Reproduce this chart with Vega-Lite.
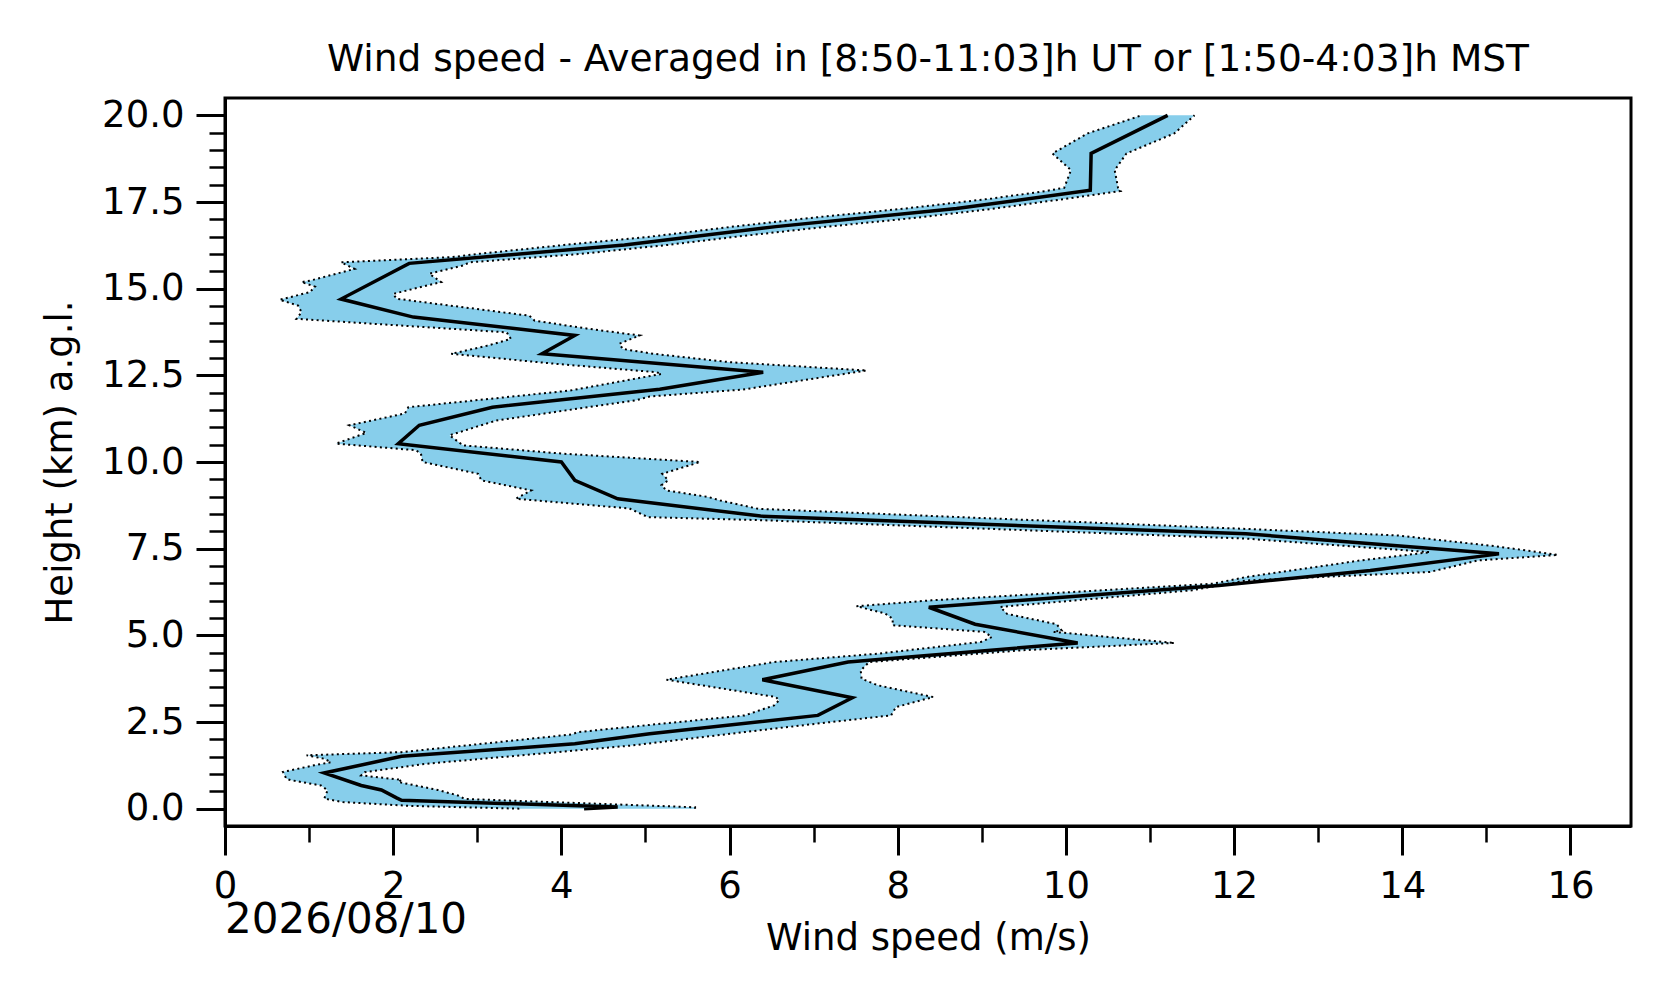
{
  "$schema": "https://vega.github.io/schema/vega-lite/v6.json",
  "width": 1406,
  "height": 728,
  "autosize": {"type": "none"},
  "padding": {"left": 225, "top": 98, "right": 45, "bottom": 177},
  "background": "white",
  "title": {
    "text": "Wind speed - Averaged in [8:50-11:03]h UT or [1:50-4:03]h MST",
    "font": "DejaVu Sans",
    "fontSize": 37.5,
    "fontWeight": "normal",
    "color": "black",
    "anchor": "middle",
    "baseline": "alphabetic",
    "offset": -12
  },
  "config": {
    "view": {"stroke": "black", "strokeWidth": 3},
    "axis": {
      "grid": false,
      "domainColor": "black",
      "domainWidth": 3,
      "tickColor": "black",
      "labelFont": "DejaVu Sans",
      "labelFontSize": 37,
      "labelColor": "black",
      "titleFont": "DejaVu Sans",
      "titleFontSize": 37,
      "titleFontWeight": "normal",
      "titleColor": "black",
      "labelOverlap": false,
      "labelFlush": false,
      "labelBound": false
    }
  },
  "datasets": {
    "band": [
      {"side": "lo", "h": 0.00, "v": 3.50},
      {"side": "lo", "h": 0.08, "v": 2.20},
      {"side": "lo", "h": 0.19, "v": 1.40},
      {"side": "lo", "h": 0.29, "v": 1.18},
      {"side": "lo", "h": 0.53, "v": 1.22},
      {"side": "lo", "h": 0.67, "v": 1.14},
      {"side": "lo", "h": 0.82, "v": 0.79},
      {"side": "lo", "h": 0.86, "v": 0.73},
      {"side": "lo", "h": 1.06, "v": 0.69},
      {"side": "lo", "h": 1.25, "v": 1.06},
      {"side": "lo", "h": 1.34, "v": 1.26},
      {"side": "lo", "h": 1.44, "v": 1.18},
      {"side": "lo", "h": 1.54, "v": 0.97},
      {"side": "lo", "h": 1.63, "v": 2.10},
      {"side": "lo", "h": 2.14, "v": 4.12},
      {"side": "lo", "h": 2.21, "v": 4.20},
      {"side": "lo", "h": 2.69, "v": 6.18},
      {"side": "lo", "h": 2.98, "v": 6.53},
      {"side": "lo", "h": 3.13, "v": 6.59},
      {"side": "lo", "h": 3.22, "v": 6.55},
      {"side": "lo", "h": 3.72, "v": 5.25},
      {"side": "lo", "h": 4.23, "v": 6.53},
      {"side": "lo", "h": 4.47, "v": 7.76},
      {"side": "lo", "h": 4.81, "v": 8.99},
      {"side": "lo", "h": 4.95, "v": 9.12},
      {"side": "lo", "h": 5.10, "v": 9.03},
      {"side": "lo", "h": 5.29, "v": 7.94},
      {"side": "lo", "h": 5.48, "v": 7.94},
      {"side": "lo", "h": 5.63, "v": 7.85},
      {"side": "lo", "h": 5.84, "v": 7.51},
      {"side": "lo", "h": 6.01, "v": 8.40},
      {"side": "lo", "h": 6.49, "v": 11.75},
      {"side": "lo", "h": 6.68, "v": 12.14},
      {"side": "lo", "h": 7.16, "v": 13.50},
      {"side": "lo", "h": 7.40, "v": 14.33},
      {"side": "lo", "h": 7.79, "v": 12.14},
      {"side": "lo", "h": 8.32, "v": 6.40},
      {"side": "lo", "h": 8.41, "v": 5.03},
      {"side": "lo", "h": 8.66, "v": 4.81},
      {"side": "lo", "h": 8.94, "v": 3.46},
      {"side": "lo", "h": 9.18, "v": 3.64},
      {"side": "lo", "h": 9.47, "v": 3.05},
      {"side": "lo", "h": 9.66, "v": 3.01},
      {"side": "lo", "h": 10.00, "v": 2.35},
      {"side": "lo", "h": 10.24, "v": 2.33},
      {"side": "lo", "h": 10.34, "v": 2.27},
      {"side": "lo", "h": 10.53, "v": 1.32},
      {"side": "lo", "h": 10.84, "v": 1.68},
      {"side": "lo", "h": 11.06, "v": 1.48},
      {"side": "lo", "h": 11.40, "v": 2.14},
      {"side": "lo", "h": 11.58, "v": 2.18},
      {"side": "lo", "h": 12.06, "v": 4.10},
      {"side": "lo", "h": 12.54, "v": 5.19},
      {"side": "lo", "h": 12.59, "v": 5.13},
      {"side": "lo", "h": 12.83, "v": 3.94},
      {"side": "lo", "h": 13.12, "v": 2.69},
      {"side": "lo", "h": 13.35, "v": 3.11},
      {"side": "lo", "h": 13.55, "v": 3.40},
      {"side": "lo", "h": 13.74, "v": 3.35},
      {"side": "lo", "h": 14.00, "v": 1.68},
      {"side": "lo", "h": 14.13, "v": 0.85},
      {"side": "lo", "h": 14.32, "v": 0.91},
      {"side": "lo", "h": 14.51, "v": 0.87},
      {"side": "lo", "h": 14.68, "v": 0.65},
      {"side": "lo", "h": 14.90, "v": 1.01},
      {"side": "lo", "h": 15.06, "v": 1.07},
      {"side": "lo", "h": 15.19, "v": 0.91},
      {"side": "lo", "h": 15.23, "v": 1.01},
      {"side": "lo", "h": 15.48, "v": 1.40},
      {"side": "lo", "h": 15.57, "v": 1.54},
      {"side": "lo", "h": 15.76, "v": 1.38},
      {"side": "lo", "h": 15.91, "v": 2.70},
      {"side": "lo", "h": 16.00, "v": 3.00},
      {"side": "lo", "h": 16.26, "v": 4.03},
      {"side": "lo", "h": 16.50, "v": 5.06},
      {"side": "lo", "h": 16.79, "v": 6.04},
      {"side": "lo", "h": 17.05, "v": 7.00},
      {"side": "lo", "h": 17.31, "v": 8.08},
      {"side": "lo", "h": 17.60, "v": 9.12},
      {"side": "lo", "h": 17.82, "v": 9.77},
      {"side": "lo", "h": 17.91, "v": 9.98},
      {"side": "lo", "h": 18.42, "v": 10.06},
      {"side": "lo", "h": 18.90, "v": 9.84},
      {"side": "lo", "h": 19.48, "v": 10.26},
      {"side": "lo", "h": 20.00, "v": 10.90},
      {"side": "hi", "h": 20.00, "v": 11.53},
      {"side": "hi", "h": 19.48, "v": 11.29},
      {"side": "hi", "h": 18.90, "v": 10.72},
      {"side": "hi", "h": 18.42, "v": 10.58},
      {"side": "hi", "h": 17.91, "v": 10.62},
      {"side": "hi", "h": 17.82, "v": 10.65},
      {"side": "hi", "h": 17.60, "v": 10.02},
      {"side": "hi", "h": 17.31, "v": 9.15},
      {"side": "hi", "h": 17.05, "v": 8.24},
      {"side": "hi", "h": 16.79, "v": 7.17},
      {"side": "hi", "h": 16.50, "v": 6.08},
      {"side": "hi", "h": 16.26, "v": 5.26},
      {"side": "hi", "h": 16.00, "v": 4.22},
      {"side": "hi", "h": 15.76, "v": 2.91},
      {"side": "hi", "h": 15.67, "v": 2.83},
      {"side": "hi", "h": 15.43, "v": 2.43},
      {"side": "hi", "h": 15.19, "v": 2.57},
      {"side": "hi", "h": 14.85, "v": 2.00},
      {"side": "hi", "h": 14.71, "v": 2.04},
      {"side": "hi", "h": 14.22, "v": 3.62},
      {"side": "hi", "h": 14.08, "v": 3.68},
      {"side": "hi", "h": 13.85, "v": 4.30},
      {"side": "hi", "h": 13.65, "v": 4.93},
      {"side": "hi", "h": 13.41, "v": 4.69},
      {"side": "hi", "h": 13.26, "v": 4.73},
      {"side": "hi", "h": 13.12, "v": 5.10},
      {"side": "hi", "h": 12.88, "v": 6.00},
      {"side": "hi", "h": 12.64, "v": 7.63},
      {"side": "hi", "h": 12.54, "v": 7.36},
      {"side": "hi", "h": 12.09, "v": 6.16},
      {"side": "hi", "h": 11.89, "v": 5.05},
      {"side": "hi", "h": 11.78, "v": 4.89},
      {"side": "hi", "h": 11.20, "v": 3.23},
      {"side": "hi", "h": 10.77, "v": 2.67},
      {"side": "hi", "h": 10.48, "v": 2.83},
      {"side": "hi", "h": 10.24, "v": 4.02},
      {"side": "hi", "h": 10.00, "v": 5.65},
      {"side": "hi", "h": 9.66, "v": 5.20},
      {"side": "hi", "h": 9.47, "v": 5.27},
      {"side": "hi", "h": 9.33, "v": 5.19},
      {"side": "hi", "h": 9.18, "v": 5.25},
      {"side": "hi", "h": 8.99, "v": 5.75},
      {"side": "hi", "h": 8.89, "v": 5.89},
      {"side": "hi", "h": 8.65, "v": 6.34},
      {"side": "hi", "h": 8.07, "v": 12.14},
      {"side": "hi", "h": 7.88, "v": 13.95},
      {"side": "hi", "h": 7.57, "v": 15.11},
      {"side": "hi", "h": 7.32, "v": 15.85},
      {"side": "hi", "h": 7.16, "v": 14.90},
      {"side": "hi", "h": 6.83, "v": 14.33},
      {"side": "hi", "h": 6.58, "v": 12.14},
      {"side": "hi", "h": 6.30, "v": 11.50},
      {"side": "hi", "h": 5.82, "v": 9.22},
      {"side": "hi", "h": 5.62, "v": 9.30},
      {"side": "hi", "h": 5.32, "v": 9.89},
      {"side": "hi", "h": 5.14, "v": 9.95},
      {"side": "hi", "h": 5.10, "v": 9.85},
      {"side": "hi", "h": 4.78, "v": 11.29},
      {"side": "hi", "h": 4.57, "v": 9.49},
      {"side": "hi", "h": 4.23, "v": 7.66},
      {"side": "hi", "h": 3.99, "v": 7.56},
      {"side": "hi", "h": 3.75, "v": 7.57},
      {"side": "hi", "h": 3.56, "v": 7.76},
      {"side": "hi", "h": 3.22, "v": 8.42},
      {"side": "hi", "h": 2.93, "v": 7.98},
      {"side": "hi", "h": 2.69, "v": 7.92},
      {"side": "hi", "h": 2.47, "v": 7.10},
      {"side": "hi", "h": 2.21, "v": 6.18},
      {"side": "hi", "h": 1.82, "v": 4.83},
      {"side": "hi", "h": 1.29, "v": 2.37},
      {"side": "hi", "h": 1.05, "v": 1.66},
      {"side": "hi", "h": 0.96, "v": 1.62},
      {"side": "hi", "h": 0.83, "v": 2.10},
      {"side": "hi", "h": 0.77, "v": 2.06},
      {"side": "hi", "h": 0.54, "v": 2.53},
      {"side": "hi", "h": 0.38, "v": 2.77},
      {"side": "hi", "h": 0.28, "v": 2.85},
      {"side": "hi", "h": 0.04, "v": 5.59},
      {"side": "hi", "h": 0.00, "v": 5.59}
    ],
    "mean": [
      {"h": 0.00, "v": 4.27},
      {"h": 0.05, "v": 4.67},
      {"h": 0.24, "v": 2.10},
      {"h": 0.31, "v": 2.04},
      {"h": 0.54, "v": 1.86},
      {"h": 0.67, "v": 1.62},
      {"h": 1.03, "v": 1.18},
      {"h": 1.51, "v": 2.10},
      {"h": 1.87, "v": 4.16},
      {"h": 2.16, "v": 5.05},
      {"h": 2.69, "v": 7.05},
      {"h": 3.20, "v": 7.46},
      {"h": 3.72, "v": 6.39},
      {"h": 4.23, "v": 7.41},
      {"h": 4.78, "v": 10.14},
      {"h": 5.32, "v": 8.92},
      {"h": 5.81, "v": 8.37},
      {"h": 6.44, "v": 11.82},
      {"h": 6.87, "v": 13.62},
      {"h": 7.35, "v": 15.15},
      {"h": 7.93, "v": 12.14},
      {"h": 8.44, "v": 6.37},
      {"h": 8.94, "v": 4.67},
      {"h": 9.47, "v": 4.16},
      {"h": 10.00, "v": 4.00},
      {"h": 10.53, "v": 2.06},
      {"h": 11.06, "v": 2.31},
      {"h": 11.58, "v": 3.18},
      {"h": 12.10, "v": 5.17},
      {"h": 12.59, "v": 6.40},
      {"h": 13.12, "v": 3.77},
      {"h": 13.65, "v": 4.16},
      {"h": 14.18, "v": 2.24},
      {"h": 14.70, "v": 1.38},
      {"h": 15.73, "v": 2.19},
      {"h": 16.26, "v": 4.75},
      {"h": 16.79, "v": 6.55},
      {"h": 17.31, "v": 8.70},
      {"h": 17.84, "v": 10.29},
      {"h": 18.90, "v": 10.30},
      {"h": 20.00, "v": 11.21}
    ],
    "note": [{"label": "2026/08/10"}]
  },
  "layer": [
    {
      "data": {"name": "band"},
      "mark": {"type": "line", "filled": true, "color": "#87CEEB", "strokeWidth": 0},
      "encoding": {
        "x": {
          "field": "v",
          "type": "quantitative",
          "title": "Wind speed (m/s)",
          "scale": {"domain": [0, 16.72], "nice": false, "zero": false},
          "axis": {
            "values": [0, 0.5, 1, 1.5, 2, 2.5, 3, 3.5, 4, 4.5, 5, 5.5, 6, 6.5, 7, 7.5, 8, 8.5, 9, 9.5, 10, 10.5, 11, 11.5, 12, 12.5, 13, 13.5, 14, 14.5, 15, 15.5, 16, 16.5],
            "format": "d",
            "labelExpr": "datum.value % 2 === 0 ? datum.label : ''",
            "tickSize": {"condition": {"test": "datum.value % 2 === 0", "value": 29}, "value": 16},
            "tickWidth": {"condition": {"test": "datum.value % 2 === 0", "value": 3}, "value": 2.5},
            "labelPadding": 13,
            "titlePadding": 16
          }
        },
        "y": {
          "field": "h",
          "type": "quantitative",
          "title": "Height (km) a.g.l.",
          "scale": {"domain": [-0.5, 20.5], "nice": false, "zero": false},
          "axis": {
            "values": [0, 0.5, 1, 1.5, 2, 2.5, 3, 3.5, 4, 4.5, 5, 5.5, 6, 6.5, 7, 7.5, 8, 8.5, 9, 9.5, 10, 10.5, 11, 11.5, 12, 12.5, 13, 13.5, 14, 14.5, 15, 15.5, 16, 16.5, 17, 17.5, 18, 18.5, 19, 19.5, 20],
            "format": ".1f",
            "labelExpr": "datum.value % 2.5 === 0 ? datum.label : ''",
            "tickSize": {"condition": {"test": "datum.value % 2.5 === 0", "value": 29}, "value": 16},
            "tickWidth": {"condition": {"test": "datum.value % 2.5 === 0", "value": 3}, "value": 2.5},
            "labelPadding": 12,
            "titlePadding": 22
          }
        },
        "order": {"value": null}
      }
    },
    {
      "data": {"name": "band"},
      "mark": {"type": "line", "color": "black", "strokeWidth": 2, "strokeDash": [2, 3.3], "strokeCap": "butt"},
      "encoding": {
        "x": {
          "field": "v",
          "type": "quantitative",
          "title": "Wind speed (m/s)",
          "axis": {
            "values": [0, 0.5, 1, 1.5, 2, 2.5, 3, 3.5, 4, 4.5, 5, 5.5, 6, 6.5, 7, 7.5, 8, 8.5, 9, 9.5, 10, 10.5, 11, 11.5, 12, 12.5, 13, 13.5, 14, 14.5, 15, 15.5, 16, 16.5],
            "format": "d",
            "labelExpr": "datum.value % 2 === 0 ? datum.label : ''",
            "tickSize": {"condition": {"test": "datum.value % 2 === 0", "value": 29}, "value": 16},
            "tickWidth": {"condition": {"test": "datum.value % 2 === 0", "value": 3}, "value": 2.5},
            "labelPadding": 13,
            "titlePadding": 16
          }
        },
        "y": {
          "field": "h",
          "type": "quantitative",
          "title": "Height (km) a.g.l.",
          "axis": {
            "values": [0, 0.5, 1, 1.5, 2, 2.5, 3, 3.5, 4, 4.5, 5, 5.5, 6, 6.5, 7, 7.5, 8, 8.5, 9, 9.5, 10, 10.5, 11, 11.5, 12, 12.5, 13, 13.5, 14, 14.5, 15, 15.5, 16, 16.5, 17, 17.5, 18, 18.5, 19, 19.5, 20],
            "format": ".1f",
            "labelExpr": "datum.value % 2.5 === 0 ? datum.label : ''",
            "tickSize": {"condition": {"test": "datum.value % 2.5 === 0", "value": 29}, "value": 16},
            "tickWidth": {"condition": {"test": "datum.value % 2.5 === 0", "value": 3}, "value": 2.5},
            "labelPadding": 12,
            "titlePadding": 22
          }
        },
        "detail": {"field": "side"},
        "order": {"field": "h", "type": "quantitative"}
      }
    },
    {
      "data": {"name": "mean"},
      "mark": {"type": "line", "color": "black", "strokeWidth": 3.5},
      "encoding": {
        "x": {
          "field": "v",
          "type": "quantitative",
          "title": "Wind speed (m/s)",
          "axis": {
            "values": [0, 0.5, 1, 1.5, 2, 2.5, 3, 3.5, 4, 4.5, 5, 5.5, 6, 6.5, 7, 7.5, 8, 8.5, 9, 9.5, 10, 10.5, 11, 11.5, 12, 12.5, 13, 13.5, 14, 14.5, 15, 15.5, 16, 16.5],
            "format": "d",
            "labelExpr": "datum.value % 2 === 0 ? datum.label : ''",
            "tickSize": {"condition": {"test": "datum.value % 2 === 0", "value": 29}, "value": 16},
            "tickWidth": {"condition": {"test": "datum.value % 2 === 0", "value": 3}, "value": 2.5},
            "labelPadding": 13,
            "titlePadding": 16
          }
        },
        "y": {
          "field": "h",
          "type": "quantitative",
          "title": "Height (km) a.g.l.",
          "axis": {
            "values": [0, 0.5, 1, 1.5, 2, 2.5, 3, 3.5, 4, 4.5, 5, 5.5, 6, 6.5, 7, 7.5, 8, 8.5, 9, 9.5, 10, 10.5, 11, 11.5, 12, 12.5, 13, 13.5, 14, 14.5, 15, 15.5, 16, 16.5, 17, 17.5, 18, 18.5, 19, 19.5, 20],
            "format": ".1f",
            "labelExpr": "datum.value % 2.5 === 0 ? datum.label : ''",
            "tickSize": {"condition": {"test": "datum.value % 2.5 === 0", "value": 29}, "value": 16},
            "tickWidth": {"condition": {"test": "datum.value % 2.5 === 0", "value": 3}, "value": 2.5},
            "labelPadding": 12,
            "titlePadding": 22
          }
        },
        "order": {"field": "h", "type": "quantitative"}
      }
    },
    {
      "data": {"name": "note"},
      "mark": {"type": "text", "align": "left", "baseline": "alphabetic", "font": "DejaVu Sans", "fontSize": 42, "color": "black"},
      "encoding": {
        "x": {
          "datum": 0,
          "type": "quantitative",
          "title": "Wind speed (m/s)",
          "axis": {
            "values": [0, 0.5, 1, 1.5, 2, 2.5, 3, 3.5, 4, 4.5, 5, 5.5, 6, 6.5, 7, 7.5, 8, 8.5, 9, 9.5, 10, 10.5, 11, 11.5, 12, 12.5, 13, 13.5, 14, 14.5, 15, 15.5, 16, 16.5],
            "format": "d",
            "labelExpr": "datum.value % 2 === 0 ? datum.label : ''",
            "tickSize": {"condition": {"test": "datum.value % 2 === 0", "value": 29}, "value": 16},
            "tickWidth": {"condition": {"test": "datum.value % 2 === 0", "value": 3}, "value": 2.5},
            "labelPadding": 13,
            "titlePadding": 16
          }
        },
        "y": {
          "datum": -3.6,
          "type": "quantitative",
          "title": "Height (km) a.g.l.",
          "axis": {
            "values": [0, 0.5, 1, 1.5, 2, 2.5, 3, 3.5, 4, 4.5, 5, 5.5, 6, 6.5, 7, 7.5, 8, 8.5, 9, 9.5, 10, 10.5, 11, 11.5, 12, 12.5, 13, 13.5, 14, 14.5, 15, 15.5, 16, 16.5, 17, 17.5, 18, 18.5, 19, 19.5, 20],
            "format": ".1f",
            "labelExpr": "datum.value % 2.5 === 0 ? datum.label : ''",
            "tickSize": {"condition": {"test": "datum.value % 2.5 === 0", "value": 29}, "value": 16},
            "tickWidth": {"condition": {"test": "datum.value % 2.5 === 0", "value": 3}, "value": 2.5},
            "labelPadding": 12,
            "titlePadding": 22
          }
        },
        "text": {"field": "label"}
      }
    }
  ]
}
